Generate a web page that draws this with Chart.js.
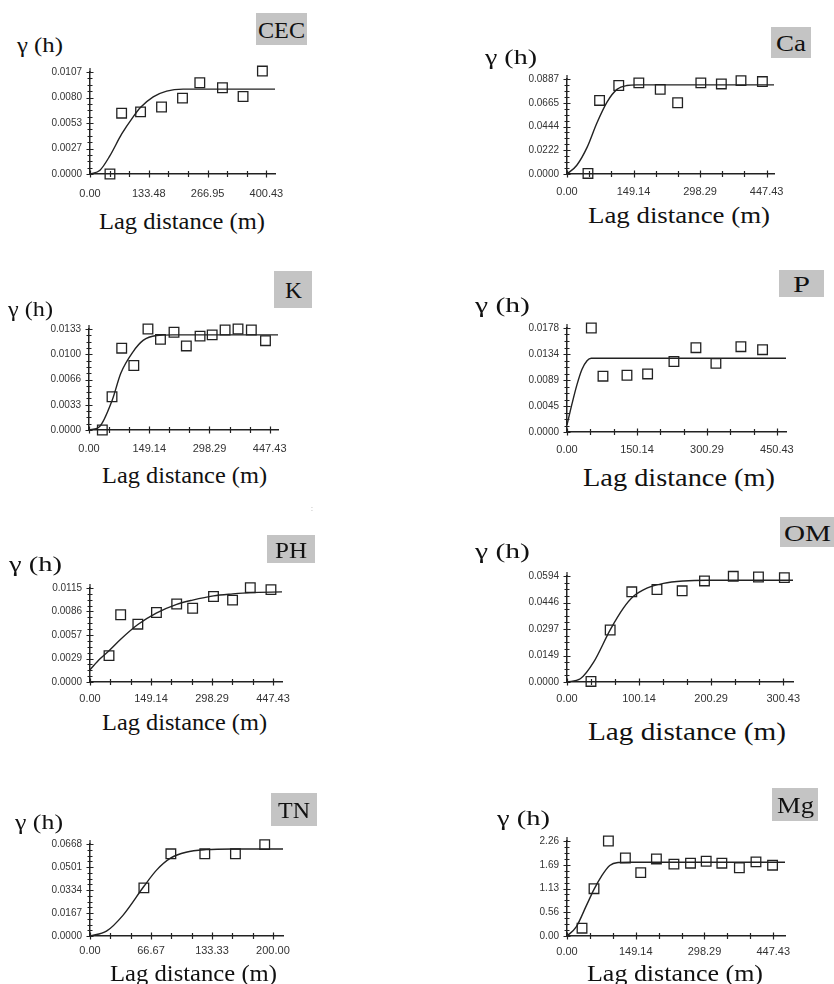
<!DOCTYPE html>
<html>
<head>
<meta charset="utf-8">
<script src="https://cdn.jsdelivr.net/npm/chart.js@4.4.1/dist/chart.umd.min.js"></script>
<style>
    html, body { margin: 0; padding: 0; background: #fff; }
    body { width: 834px; height: 984px; position: relative; overflow: hidden; }
    canvas.panel { position: absolute; }
    .txt {
        position: absolute;
        white-space: nowrap;
        font-family: 'Liberation Serif', 'Times New Roman', serif;
        color: #111;
        line-height: 1;
        transform-origin: 0 50%;
    }
    .tag { position: absolute; background: #c4c4c4; }
</style>
</head>
<body>
<script>
// ---- Data ---------------------------------------------------------------

// CEC
const cecXLabels = ['0.00', '133.48', '266.95', '400.43'];
const cecYLabels = ['0.0000', '0.0027', '0.0053', '0.0080', '0.0107'];
const cecLag = [45.3, 71.8, 114.8, 162.4, 210.0, 249.3, 300.7, 347.5, 391.4];
const cecGamma = [0.0000, 0.00638, 0.00652, 0.00703, 0.00796, 0.00957, 0.00905, 0.00813, 0.0108];
const cecFitLag = [0, 22.7, 45, 72, 98, 115, 143.5, 174, 211.5, 260, 420];
const cecFitGamma = [0, 0.0004, 0.0019, 0.0042, 0.0060, 0.0070, 0.0081, 0.0087, 0.0089, 0.0089, 0.0089];

// Ca
const caXLabels = ['0.00', '149.14', '298.29', '447.43'];
const caYLabels = ['0.0000', '0.0222', '0.0444', '0.0665', '0.0887'];
const caLag = [47, 73, 116, 161, 209, 248, 300, 346, 390, 438];
const caGamma = [0.0005, 0.0687, 0.0826, 0.0851, 0.0790, 0.0665, 0.0851, 0.0841, 0.0872, 0.0863];
const caFitLag = [0, 22, 45, 67, 90, 112, 134, 157, 200, 464];
const caFitGamma = [0, 0.0082, 0.0249, 0.0477, 0.0674, 0.0790, 0.0826, 0.0832, 0.0832, 0.0832];

// K
const kXLabels = ['0.00', '149.14', '298.29', '447.43'];
const kYLabels = ['0.0000', '0.0033', '0.0066', '0.0100', '0.0133'];
const kLag = [33, 57, 81, 111, 146, 177, 210.5, 241, 275, 305, 337, 369, 402, 437];
const kGamma = [0.0000, 0.00438, 0.01077, 0.00849, 0.0133, 0.01193, 0.01287, 0.01107, 0.01236, 0.01253, 0.01317, 0.0133, 0.01317, 0.01176];
const kFitLag = [0, 26, 57, 79, 109, 134, 167, 208, 468];
const kFitGamma = [0, 0.00043, 0.00386, 0.0075, 0.0103, 0.0118, 0.01244, 0.01253, 0.01253];

// P
const pXLabels = ['0.00', '150.14', '300.29', '450.43'];
const pYLabels = ['0.0000', '0.0045', '0.0089', '0.0134', '0.0178'];
const pLag = [52.2, 77.2, 128.7, 173, 229.5, 276.7, 319.6, 373.2, 419.7];
const pGamma = [0.0178, 0.00955, 0.00971, 0.00994, 0.01207, 0.01443, 0.01174, 0.0146, 0.01409];
const pFitLag = [0, 10.7, 21.4, 32, 43, 52, 470];
const pFitGamma = [0.0012, 0.0048, 0.0081, 0.0107, 0.0122, 0.01263, 0.01263];

// PH
const phXLabels = ['0.00', '149.14', '298.29', '447.43'];
const phYLabels = ['0.0000', '0.0029', '0.0057', '0.0086', '0.0115'];
const phLag = [46.5, 75, 117, 162.5, 212, 251, 302, 348.6, 392, 442.5];
const phGamma = [0.00323, 0.00823, 0.00707, 0.0085, 0.00954, 0.00902, 0.01046, 0.01002, 0.01154, 0.0113];
const phFitLag = [0, 24.5, 46.5, 75, 117, 162, 212, 251, 302, 349, 392, 469.5];
const phFitGamma = [0.0015, 0.00283, 0.00383, 0.00523, 0.00703, 0.00843, 0.0095, 0.01002, 0.01054, 0.01078, 0.01094, 0.01102];

// OM
const omXLabels = ['0.00', '100.14', '200.29', '300.43'];
const omYLabels = ['0.0000', '0.0149', '0.0297', '0.0446', '0.0594'];
const omLag = [33.3, 60, 90, 125, 160, 191, 231, 266, 302];
const omGamma = [0.0003, 0.02915, 0.05055, 0.05184, 0.0511, 0.05663, 0.05922, 0.05885, 0.05848];
const omFitLag = [0, 18.5, 37, 60, 78.6, 92.4, 111, 134, 162, 194, 314];
const omFitGamma = [0, 0.0018, 0.0111, 0.0292, 0.0415, 0.048, 0.0526, 0.0553, 0.0566, 0.057, 0.057];

// TN
const tnXLabels = ['0.00', '66.67', '133.33', '200.00'];
const tnYLabels = ['0.0000', '0.0167', '0.0334', '0.0501', '0.0668'];
const tnLag = [58.9, 88.4, 125.5, 159, 191];
const tnGamma = [0.03495, 0.05967, 0.05967, 0.05967, 0.06633];
const tnFitLag = [0, 18, 36, 59, 73, 88, 105, 127, 156, 211];
const tnFitGamma = [0, 0.0035, 0.0150, 0.0361, 0.048, 0.0565, 0.0608, 0.0627, 0.0632, 0.0632];

// Mg
const mgXLabels = ['0.00', '149.14', '298.29', '447.43'];
const mgYLabels = ['0.00', '0.56', '1.13', '1.69', '2.26'];
const mgLag = [32.6, 58.6, 89.8, 126.7, 160, 194, 232, 268, 302, 336, 374, 410, 446];
const mgGamma = [0.186, 1.126, 2.26, 1.856, 1.507, 1.833, 1.709, 1.732, 1.778, 1.732, 1.623, 1.763, 1.685];
const mgFitLag = [0, 20, 42, 58.6, 74.6, 92.7, 110.8, 136, 473];
const mgFitGamma = [0, 0.217, 0.722, 1.11, 1.42, 1.678, 1.747, 1.755, 1.755];

// ---- Layout -------------------------------------------------------------

const panels = [
    { name: 'CEC', xLabels: cecXLabels, yLabels: cecYLabels, lag: cecLag, gamma: cecGamma, fitLag: cecFitLag, fitGamma: cecFitGamma,
      xMax: 420, plot: { x: 90, y: 70, w: 185, h: 104 }, xPad: 13,
      gammaPos: [40, 45, 46], tag: [256, 13, 51, 32, 47], lagPos: [182, 221, 166, 23] },
    { name: 'Ca', xLabels: caXLabels, yLabels: caYLabels, lag: caLag, gamma: caGamma, fitLag: caFitLag, fitGamma: caFitGamma,
      xMax: 464, plot: { x: 567, y: 77, w: 207, h: 97 }, xPad: 11,
      gammaPos: [511, 57, 52], tag: [771, 27, 40, 31, 30], lagPos: [679, 215, 182, 24] },
    { name: 'K', xLabels: kXLabels, yLabels: kYLabels, lag: kLag, gamma: kGamma, fitLag: kFitLag, fitGamma: kFitGamma,
      xMax: 468, plot: { x: 89, y: 327, w: 189, h: 103 }, xPad: 12,
      gammaPos: [30.5, 309.5, 45], tag: [274, 271, 38, 37, 17], lagPos: [184.5, 475, 165, 23] },
    { name: 'P', xLabels: pXLabels, yLabels: pYLabels, lag: pLag, gamma: pGamma, fitLag: pFitLag, fitGamma: pFitGamma,
      xMax: 470, plot: { x: 567, y: 326, w: 219, h: 106 }, xPad: 11,
      gammaPos: [502.5, 305.5, 55], tag: [779, 270, 45, 27, 17], lagPos: [679, 477, 192, 25] },
    { name: 'PH', xLabels: phXLabels, yLabels: phYLabels, lag: phLag, gamma: phGamma, fitLag: phFitLag, fitGamma: phFitGamma,
      xMax: 469.5, plot: { x: 90, y: 586, w: 192, h: 96 }, xPad: 10,
      gammaPos: [35, 564, 53], tag: [267, 535, 48, 28, 32], lagPos: [184.5, 722, 165, 23] },
    { name: 'OM', xLabels: omXLabels, yLabels: omYLabels, lag: omLag, gamma: omGamma, fitLag: omFitLag, fitGamma: omFitGamma,
      xMax: 314, plot: { x: 567, y: 574, w: 226, h: 108 }, xPad: 10,
      gammaPos: [502.5, 551, 55], tag: [780, 517, 54, 30, 47], lagPos: [687, 732, 198, 26] },
    { name: 'TN', xLabels: tnXLabels, yLabels: tnYLabels, lag: tnLag, gamma: tnGamma, fitLag: tnFitLag, fitGamma: tnFitGamma,
      xMax: 211, plot: { x: 90, y: 842, w: 193, h: 94 }, xPad: 8,
      gammaPos: [39, 822, 48], tag: [271, 793, 46, 33, 32], lagPos: [193.5, 973, 167, 23] },
    { name: 'Mg', xLabels: mgXLabels, yLabels: mgYLabels, lag: mgLag, gamma: mgGamma, fitLag: mgFitLag, fitGamma: mgFitGamma,
      xMax: 473, plot: { x: 567, y: 839, w: 218, h: 97 }, xPad: 9,
      gammaPos: [523.5, 818, 53], tag: [772, 788, 46, 33, 37], lagPos: [675, 973, 176, 24] },
];

const PAD_L = 70, PAD_T = 12, PAD_R = 26, PAD_B = 28;
const INK = '#222';

Chart.defaults.font.family = "'Liberation Sans', Arial, sans-serif";

// ---- Text helpers -------------------------------------------------------

function placeText(str, cx, cy, size, width) {
    const el = document.createElement('div');
    el.className = 'txt';
    el.textContent = str;
    el.style.fontSize = size + 'px';
    document.body.appendChild(el);
    const box = el.getBoundingClientRect();
    el.style.left = (cx - width / 2) + 'px';
    el.style.top = (cy - box.height / 2) + 'px';
    el.style.transform = `scaleX(${width / box.width})`;
    return el;
}

function placeTag(name, [x, y, w, h, textW]) {
    const box = document.createElement('div');
    box.className = 'tag';
    Object.assign(box.style, { left: x + 'px', top: y + 'px', width: w + 'px', height: h + 'px' });
    document.body.appendChild(box);
    placeText(name, x + w / 2, y + h / 2 + 1, 23, textW);
}

// ---- Ticks --------------------------------------------------------------

// x: two minor ticks between labelled ones; y: three minor ticks between.
function xTicks(labels, max) {
    const step = parseFloat(labels[labels.length - 1]) / (3 * (labels.length - 1));
    const out = [];
    for (let k = 0; k * step <= max + 1e-9; k++) {
        out.push({ value: k * step, lbl: k % 3 === 0 ? (labels[k / 3] ?? '') : '' });
    }
    return out;
}

function yTicks(labels) {
    const n = 4 * (labels.length - 1);
    const step = parseFloat(labels[labels.length - 1]) / n;
    const out = [];
    for (let k = 0; k <= n; k++) {
        out.push({ value: k * step, lbl: k % 4 === 0 ? labels[k / 4] : '' });
    }
    return out;
}

// Tick marks crossing the axis lines, as in the original software output.
const crossTicks = {
    id: 'crossTicks',
    afterDraw(chart) {
        const { ctx, chartArea: a, scales: { x, y } } = chart;
        ctx.save();
        ctx.strokeStyle = INK;
        ctx.lineWidth = 1.2;
        ctx.beginPath();
        for (const t of x.ticks) {
            const px = Math.round(x.getPixelForValue(t.value)) + 0.5;
            const l = t.lbl ? 3.5 : 3;
            ctx.moveTo(px, a.bottom - l);
            ctx.lineTo(px, a.bottom + l);
        }
        for (const t of y.ticks) {
            const py = Math.round(y.getPixelForValue(t.value)) + 0.5;
            const l = t.lbl ? 3.5 : 2.5;
            ctx.moveTo(a.left - l, py);
            ctx.lineTo(a.left + l, py);
        }
        ctx.moveTo(a.left, a.top);
        ctx.lineTo(a.left, a.top - 4);
        ctx.stroke();
        ctx.restore();
    },
};

// ---- Panels -------------------------------------------------------------

function buildPanel(p) {
    const w = p.plot.w + PAD_L + PAD_R;
    const h = p.plot.h + PAD_T + PAD_B;
    const canvas = document.createElement('canvas');
    canvas.className = 'panel';
    canvas.width = w;
    canvas.height = h;
    Object.assign(canvas.style, {
        left: (p.plot.x - PAD_L) + 'px',
        top: (p.plot.y - PAD_T) + 'px',
        width: w + 'px',
        height: h + 'px',
    });
    document.body.appendChild(canvas);

    const xT = xTicks(p.xLabels, p.xMax);
    const yT = yTicks(p.yLabels);
    const yMax = parseFloat(p.yLabels[p.yLabels.length - 1]);

    new Chart(canvas, {
        type: 'scatter',
        data: {
            datasets: [
                {
                    type: 'line',
                    data: p.fitLag.map((v, i) => ({ x: v, y: p.fitGamma[i] })),
                    borderColor: INK,
                    borderWidth: 1.4,
                    pointRadius: 0,
                    cubicInterpolationMode: 'monotone',
                    fill: false,
                    clip: false,
                },
                {
                    type: 'scatter',
                    data: p.lag.map((v, i) => ({ x: v, y: p.gamma[i] })),
                    pointStyle: 'rect',
                    pointRadius: 6.8,
                    borderColor: INK,
                    borderWidth: 1.3,
                    backgroundColor: 'rgba(255,255,255,0)',
                    clip: false,
                },
            ],
        },
        options: {
            responsive: false,
            animation: false,
            layout: { padding: { left: 0, top: PAD_T, right: PAD_R, bottom: 0 } },
            plugins: { legend: { display: false }, tooltip: { enabled: false } },
            scales: {
                x: {
                    type: 'linear',
                    min: 0,
                    max: p.xMax,
                    bounds: 'data',
                    afterBuildTicks: (s) => { s.ticks = xT.map(t => ({ ...t })); },
                    afterFit: (s) => { s.height = PAD_B; },
                    grid: { display: false, drawTicks: false, tickLength: 0 },
                    border: { display: true, color: INK, width: 1.5 },
                    ticks: {
                        autoSkip: false,
                        maxRotation: 0,
                        padding: p.xPad,
                        color: '#333',
                        font: { size: 11 },
                        callback: (v, i, ticks) => ticks[i].lbl,
                    },
                },
                y: {
                    type: 'linear',
                    min: 0,
                    max: yMax,
                    bounds: 'data',
                    afterBuildTicks: (s) => { s.ticks = yT.map(t => ({ ...t })); },
                    afterFit: (s) => { s.width = PAD_L; },
                    grid: { display: false, drawTicks: false, tickLength: 0 },
                    border: { display: true, color: INK, width: 1.5 },
                    ticks: {
                        autoSkip: false,
                        padding: 8,
                        color: '#333',
                        font: { size: 10 },
                        callback: (v, i, ticks) => ticks[i].lbl,
                    },
                },
            },
        },
        plugins: [crossTicks],
    });

    const [gx, gy, gw] = p.gammaPos;
    placeText('γ (h)', gx, gy, 21, gw);
    placeTag(p.name, p.tag);
    const [lx, ly, lw, ls] = p.lagPos;
    placeText('Lag distance (m)', lx, ly, ls, lw);
}

panels.forEach(buildPanel);

// stray mark in the scanned figure
const dot = placeText(':', 312, 508, 9, 2);
dot.style.color = '#999';
</script>
</body>
</html>
